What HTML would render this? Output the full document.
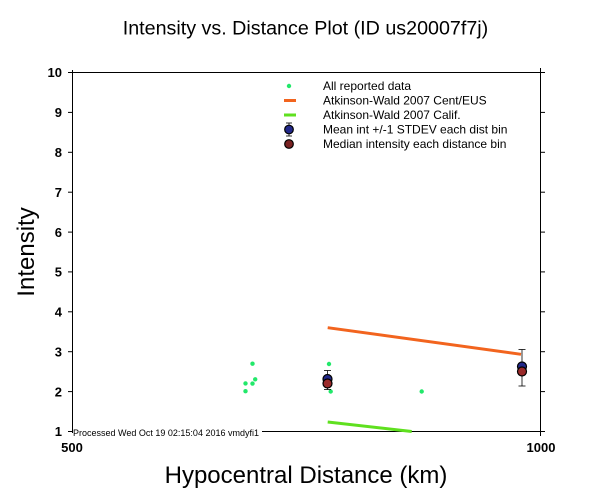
<!DOCTYPE html>
<html><head><meta charset="utf-8"><style>
html,body{margin:0;padding:0;background:#fff;}
svg{display:block;}
text{font-family:"Liberation Sans",Arial,sans-serif;fill:#000;}
</style></head><body>
<svg width="612" height="504" viewBox="0 0 612 504" xmlns="http://www.w3.org/2000/svg">
<rect width="612" height="504" fill="#fff"/>
<text x="305.5" y="34.5" font-size="19.7" text-anchor="middle">Intensity vs. Distance Plot (ID us20007f7j)</text>

<!-- axes -->
<g stroke="#000" stroke-width="1" fill="none">
<line x1="72.5" y1="70" x2="72.5" y2="433"/>
<line x1="540.5" y1="68" x2="540.5" y2="436"/>
<line x1="72" y1="72.5" x2="541" y2="72.5"/>
<line x1="262" y1="431.5" x2="541" y2="431.5"/>
<!-- left ticks -->
<line x1="68" y1="72.5" x2="72" y2="72.5"/>
<line x1="68" y1="112.4" x2="72" y2="112.4"/>
<line x1="68" y1="152.3" x2="72" y2="152.3"/>
<line x1="68" y1="192.2" x2="72" y2="192.2"/>
<line x1="68" y1="232.1" x2="72" y2="232.1"/>
<line x1="68" y1="271.9" x2="72" y2="271.9"/>
<line x1="68" y1="311.8" x2="72" y2="311.8"/>
<line x1="68" y1="351.7" x2="72" y2="351.7"/>
<line x1="68" y1="391.6" x2="72" y2="391.6"/>
<line x1="68" y1="431.5" x2="72" y2="431.5"/>
<!-- right ticks -->
<line x1="541" y1="72.5" x2="545" y2="72.5"/>
<line x1="541" y1="112.4" x2="545" y2="112.4"/>
<line x1="541" y1="152.3" x2="545" y2="152.3"/>
<line x1="541" y1="192.2" x2="545" y2="192.2"/>
<line x1="541" y1="232.1" x2="545" y2="232.1"/>
<line x1="541" y1="271.9" x2="545" y2="271.9"/>
<line x1="541" y1="311.8" x2="545" y2="311.8"/>
<line x1="541" y1="351.7" x2="545" y2="351.7"/>
<line x1="541" y1="391.6" x2="545" y2="391.6"/>
<line x1="541" y1="431.5" x2="545" y2="431.5"/>
</g>

<!-- y tick labels -->
<g font-size="13" font-weight="bold" text-anchor="end">
<text x="62" y="77.2">10</text>
<text x="62" y="117.1">9</text>
<text x="62" y="157">8</text>
<text x="62" y="196.9">7</text>
<text x="62" y="236.8">6</text>
<text x="62" y="276.6">5</text>
<text x="62" y="316.5">4</text>
<text x="62" y="356.4">3</text>
<text x="62" y="396.3">2</text>
<text x="62" y="436.2">1</text>
</g>
<text x="72" y="452" font-size="13" font-weight="bold" text-anchor="middle">500</text>
<text x="541" y="452" font-size="13" font-weight="bold" text-anchor="middle">1000</text>

<text x="73" y="436" font-size="9.5" textLength="186" lengthAdjust="spacingAndGlyphs">Processed Wed Oct 19 02:15:04 2016 vmdyfi1</text>

<text x="306" y="483" font-size="24" text-anchor="middle">Hypocentral Distance (km)</text>
<text transform="translate(34,252) rotate(-90)" font-size="24" text-anchor="middle">Intensity</text>

<!-- legend -->
<circle cx="289" cy="86" r="2.2" fill="#22e86a"/>
<line x1="284" y1="100.5" x2="296" y2="100.5" stroke="#f2641e" stroke-width="3"/>
<line x1="284" y1="115" x2="296" y2="115" stroke="#5fe01f" stroke-width="3"/>
<g stroke="#000" stroke-width="0.8">
<line x1="289" y1="123" x2="289" y2="136"/>
<line x1="286" y1="123" x2="292" y2="123"/>
<line x1="286" y1="136" x2="292" y2="136"/>
</g>
<circle cx="289" cy="129.5" r="4.3" fill="#22288a" stroke="#000" stroke-width="1.2"/>
<circle cx="289" cy="144" r="4.3" fill="#7a2222" stroke="#000" stroke-width="1.2"/>
<g font-size="12">
<text x="323" y="90">All reported data</text>
<text x="323" y="104.5">Atkinson-Wald 2007 Cent/EUS</text>
<text x="323" y="119">Atkinson-Wald 2007 Calif.</text>
<text x="323" y="133.5">Mean int +/-1 STDEV each dist bin</text>
<text x="323" y="148">Median intensity each distance bin</text>
</g>

<!-- model lines -->
<line x1="327.7" y1="327.7" x2="521" y2="354.3" stroke="#f2641e" stroke-width="3"/>
<line x1="327.7" y1="422" x2="411.7" y2="431.5" stroke="#5fe01f" stroke-width="3"/>

<!-- data points -->
<g fill="#22e86a">
<circle cx="245.5" cy="391.2" r="2.2"/>
<circle cx="245.5" cy="383.4" r="2.2"/>
<circle cx="252.5" cy="363.7" r="2.2"/>
<circle cx="252.5" cy="383.6" r="2.2"/>
<circle cx="255.2" cy="379.3" r="2.2"/>
<circle cx="329" cy="364" r="2.2"/>
<circle cx="330.7" cy="391.5" r="2.2"/>
<circle cx="421.7" cy="391.5" r="2.2"/>
</g>

<!-- error bars -->
<g stroke="#000" stroke-width="0.8">
<line x1="327.5" y1="370.5" x2="327.5" y2="389.5"/>
<line x1="324" y1="370.5" x2="331" y2="370.5"/>
<line x1="324" y1="389.5" x2="331" y2="389.5"/>
<line x1="522" y1="349.5" x2="522" y2="386"/>
<line x1="518.5" y1="349.5" x2="525.5" y2="349.5"/>
<line x1="518.5" y1="386" x2="525.5" y2="386"/>
</g>
<circle cx="327.5" cy="379" r="4.5" fill="#22288a" stroke="#000" stroke-width="1.2"/>
<circle cx="327.5" cy="383.5" r="4.5" fill="#9a2a2a" stroke="#000" stroke-width="1.2"/>
<circle cx="522" cy="366.5" r="4.5" fill="#22288a" stroke="#000" stroke-width="1.2"/>
<circle cx="522" cy="371.5" r="4.5" fill="#9a2a2a" stroke="#000" stroke-width="1.2"/>
</svg>
</body></html>
